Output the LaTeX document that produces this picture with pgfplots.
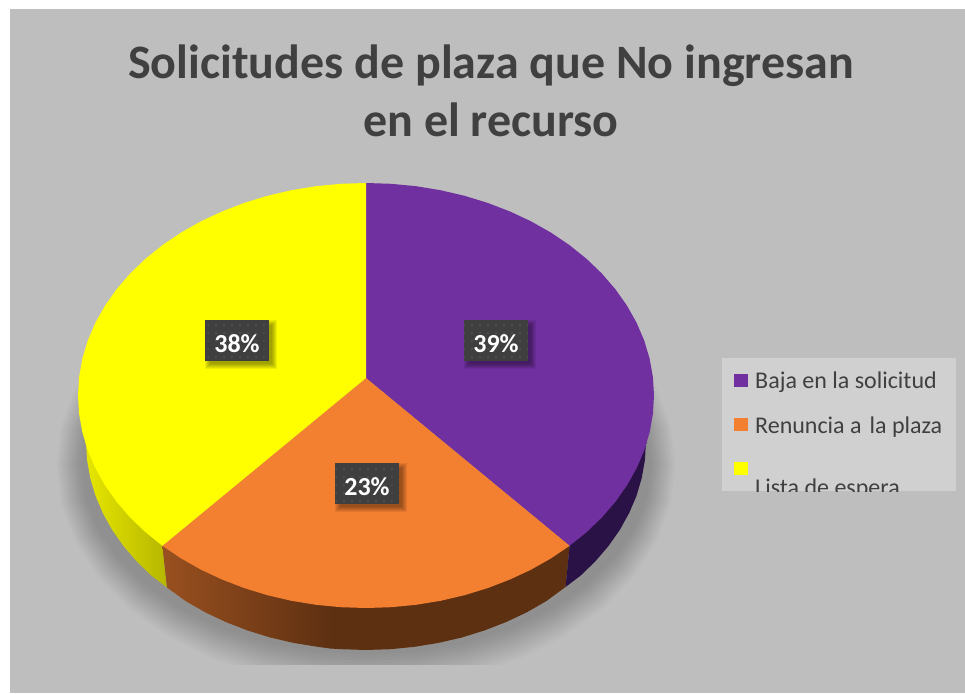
\documentclass[border=0pt]{standalone}
\usepackage{fontspec}
\setmainfont{Carlito}
\usepackage{pgfplots}
\usepackage{pgfplotstable}
\pgfplotsset{compat=1.18}
\usetikzlibrary{patterns.meta}

\definecolor{fondo}{HTML}{BEBEBE}
\definecolor{leyenda}{HTML}{D0D0D0}
\definecolor{texto}{HTML}{404040}
\definecolor{morado}{HTML}{7030A0}
\definecolor{naranja}{HTML}{F37F30}
\definecolor{amarillo}{HTML}{FFFF00}
\definecolor{caja}{HTML}{3F3F3F}
\definecolor{puntos}{HTML}{505050}
\definecolor{ladoA}{HTML}{E6E600}
\definecolor{ladoB}{HTML}{B6B600}
\definecolor{ladoC}{HTML}{99501F}
\definecolor{ladoD}{HTML}{5E3012}
\definecolor{ladoE}{HTML}{2B1246}

% unit circle for the soft shadow under the pie
\pgfplotstableread{
c s
1.000 0.000
0.985 0.174
0.940 0.342
0.866 0.500
0.766 0.643
0.643 0.766
0.500 0.866
0.342 0.940
0.174 0.985
0.000 1.000
-0.174 0.985
-0.342 0.940
-0.500 0.866
-0.643 0.766
-0.766 0.643
-0.866 0.500
-0.940 0.342
-0.985 0.174
-1.000 0.000
-0.985 -0.174
-0.940 -0.342
-0.866 -0.500
-0.766 -0.643
-0.643 -0.766
-0.500 -0.866
-0.342 -0.940
-0.174 -0.985
0.000 -1.000
0.174 -0.985
0.342 -0.940
0.500 -0.866
0.643 -0.766
0.766 -0.643
0.866 -0.500
0.940 -0.342
0.985 -0.174
}\circulo

% x left, y top, x right, y bottom, text
\newcommand{\etiqueta}[5]{
  \pgfplotsinvokeforeach{0,...,5}{
    \addplot[draw=none,fill=black,fill opacity=.07]
      coordinates {(#1+5-##1,#2+5-##1) (#3+3+##1,#2+5-##1) (#3+3+##1,#4+3+##1) (#1+5-##1,#4+3+##1)};
  }
  \addplot[draw=none,fill=caja] coordinates {(#1,#2) (#3,#2) (#3,#4) (#1,#4)};
  \addplot[draw=none,pattern={Dots[distance=8pt,radius=1.1pt]},pattern color=puntos] coordinates {(#1,#2) (#3,#2) (#3,#4) (#1,#4)};
  \node[anchor=base,text=white,font=\fontsize{26}{26}\selectfont\bfseries] at (axis cs:{(#1+#3)/2},#4-9) {#5};
}

\begin{document}
\begin{tikzpicture}
\begin{axis}[
    width=965pt,
    height=693pt,
    scale only axis,
    xmin=0, xmax=965,
    ymin=0, ymax=693,
    y dir=reverse,
    hide axis,
]

% page and background
\addplot[draw=none,fill=white] coordinates {(0,0) (965,0) (965,693) (0,693)};
\addplot[draw=none,fill=fondo] coordinates {(10,9) (965,9) (965,693) (10,693)};

% shadow
\pgfplotsinvokeforeach{0,...,11}{
  \addplot[draw=none,fill=black,fill opacity=.018]
    table[x expr=366+(285+2.2*#1)*\thisrow{c}, y expr=465+(190+3*#1)*\thisrow{s}] {\circulo};
}
\addplot[draw=none,fill=fondo] coordinates {(10,665) (965,665) (965,693) (10,693)};

% sides
\addplot[draw=none,left color=ladoA,right color=ladoB] coordinates {
(85.4,443.3) (86,442) (87.1,460.1) (90.3,478.1) (95.5,495.8) (102.9,513.1) (112.2,529.9)
(123.5,546) (136.6,561.3) (151.5,575.7) (167,587.5) (162.4,545.8)};
\addplot[draw=none,fill=ladoD] coordinates {
(330,600) (330,648.5) (341.6,649.2) (366,650) (390.4,649.2) (414.6,646.8) (438.5,642.9)
(461.8,637.5) (484.3,630.5) (506,622.1) (526.6,612.4) (546,601.3) (565.5,587) (569.6,545.8)};
\addplot[draw=none,left color=ladoC,right color=ladoD] coordinates {
(162.4,545.8) (167,587.5) (186,601.3) (205.4,612.4) (226,622.1) (247.7,630.5) (270.2,637.5)
(293.5,642.9) (317.4,646.8) (331,648.6) (331,600)};
\addplot[draw=none,fill=ladoE] coordinates {
(569.6,545.8) (565.5,587) (580.5,575.7) (595.4,561.3) (608.5,546) (619.8,529.9) (629.1,513.1)
(636.5,495.8) (641.7,478.1) (644.9,460.1) (646,442) (646.6,443.3)};

% top: Baja en la solicitud 39
\addplot[draw=none,fill=morado] coordinates {
(366,378) (366,183) (391.1,183.8) (416,186.2) (440.5,190.2) (464.5,195.8) (487.7,202.9)
(510,211.5) (531.2,221.4) (551.1,232.7) (569.6,245.2) (586.6,258.9) (601.9,273.6)
(615.4,289.25) (627,305.7) (636.6,322.8) (644.2,340.5) (649.6,358.6) (652.9,377) (654,395.5)
(652.9,414) (649.6,432.4) (644.2,450.5) (636.6,468.2) (627,485.3) (615.4,501.75)
(601.9,517.4) (586.6,532.1) (569.6,545.8)};
% top: Renuncia a la plaza 23
\addplot[draw=none,fill=naranja] coordinates {
(366,378) (569.6,545.8) (551.1,558.3) (531.2,569.6) (510,579.5) (487.7,588.1) (464.5,595.2)
(440.5,600.8) (416,604.8) (391.1,607.2) (366,608) (340.9,607.2) (316,604.8) (291.5,600.8)
(267.5,595.2) (244.3,588.1) (222,579.5) (200.8,569.6) (180.9,558.3) (162.4,545.8)};
% top: Lista de espera 38
\addplot[draw=none,fill=amarillo] coordinates {
(366,378) (162.4,545.8) (145.4,532.1) (130.1,517.4) (116.6,501.75) (105,485.3) (95.4,468.2)
(87.8,450.5) (82.4,432.4) (79.1,414) (78,395.5) (79.1,377) (82.4,358.6) (87.8,340.5)
(95.4,322.8) (105,305.7) (116.6,289.25) (130.1,273.6) (145.4,258.9) (162.4,245.2)
(180.9,232.7) (200.8,221.4) (222,211.5) (244.3,202.9) (267.5,195.8) (291.5,190.2)
(316,186.2) (340.9,183.8) (366,183)};

% data labels
\etiqueta{205}{320}{269}{361}{38\%}
\etiqueta{464}{320}{528}{361}{39\%}
\etiqueta{335}{463}{399}{504}{23\%}

% title
\node[anchor=base,text=texto,font=\fontsize{48}{48}\selectfont\bfseries] at (axis cs:491,78) {Solicitudes de plaza que No ingresan};
\node[anchor=base,text=texto,font=\fontsize{48}{48}\selectfont\bfseries] at (axis cs:491,136) {en el recurso};

% legend
\addplot[draw=none,fill=leyenda] coordinates {(722,358) (956,358) (956,491) (722,491)};
\addplot[draw=none,fill=morado] coordinates {(734,374) (748,374) (748,387) (734,387)};
\addplot[draw=none,fill=naranja] coordinates {(734,418) (748,418) (748,431) (734,431)};
\addplot[draw=none,fill=amarillo] coordinates {(734,462) (748,462) (748,475) (734,475)};
\node[anchor=base west,inner sep=0pt,text=texto,font=\fontsize{24}{24}\selectfont] at (axis cs:755,388) {Baja en la solicitud};
\node[anchor=base west,inner sep=0pt,text=texto,font=\fontsize{24}{24}\selectfont] at (axis cs:755,433) {Renuncia a\hspace{8pt}la plaza};
\begin{scope}
\clip (axis cs:722,358) rectangle (axis cs:956,491);
\node[anchor=base west,inner sep=0pt,text=texto,font=\fontsize{24}{24}\selectfont] at (axis cs:755,495.5) {Lista de espera};
\end{scope}

\end{axis}
\end{tikzpicture}
\end{document}
